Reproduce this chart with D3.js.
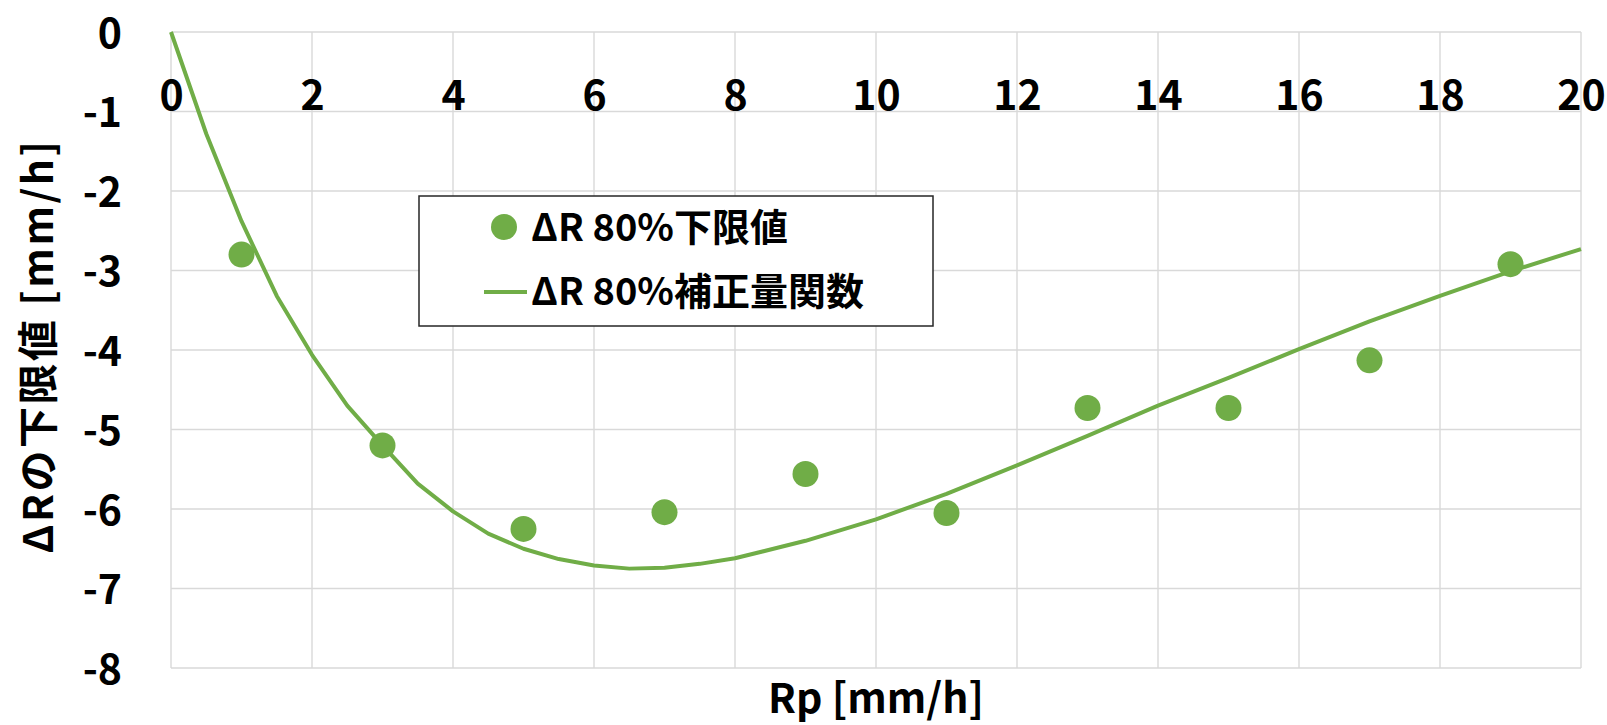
<!DOCTYPE html>
<html>
<head>
<meta charset="utf-8">
<script src="https://cdn.jsdelivr.net/npm/d3@7"></script>
<style>
  html, body { margin: 0; padding: 0; background: #fff; }
  svg { display: block; }
  text { font-family: "Noto Sans CJK JP", "Liberation Sans", sans-serif; font-weight: bold; fill: #000; }
</style>
</head>
<body>
<svg id="chart" width="1607" height="725"></svg>
<script>
// Lower-limit values of ΔR (80%) at each rainfall class
const pointX = [1, 3, 5, 7, 9, 11, 13, 15, 17, 19];
const pointY = [-2.80, -5.20, -6.25, -6.04, -5.56, -6.05, -4.73, -4.73, -4.13, -2.92];

// Correction function sampled along Rp
const curveX = [0, 0.5, 1, 1.5, 2, 2.5, 3, 3.5, 4, 4.5, 5, 5.5, 6, 6.5, 7, 7.5, 8,
                9, 10, 11, 12, 13, 14, 15, 16, 17, 18, 19, 20];
const curveY = [0, -1.28, -2.38, -3.32, -4.06, -4.70, -5.20, -5.68, -6.03, -6.31, -6.50, -6.63, -6.71, -6.75, -6.74, -6.69, -6.62,
                -6.40, -6.13, -5.81, -5.45, -5.08, -4.70, -4.35, -3.99, -3.64, -3.32, -3.01, -2.73];

const xTicks = [0, 2, 4, 6, 8, 10, 12, 14, 16, 18, 20];
const yTicks = [0, -1, -2, -3, -4, -5, -6, -7, -8];

const seriesNames = ["ΔR 80%下限値", "ΔR 80%補正量関数"];
const xTitle = "Rp [mm/h]";
const yTitle = "ΔRの下限値 [mm/h]";

const green = "#70AD47";
const gridColor = "#d9d9d9";

const svg = d3.select("#chart");
const plot = { left: 171, right: 1581, top: 32, bottom: 668 };

const x = d3.scaleLinear().domain([0, 20]).range([plot.left, plot.right]);
const y = d3.scaleLinear().domain([-8, 0]).range([plot.bottom, plot.top]);

// Plain hyphen-minus for negative tick labels
const fmt = d => String(d);

// Gridlines
const grid = svg.append("g");
grid.selectAll("line.v").data(xTicks).join("line")
  .attr("x1", d => x(d)).attr("x2", d => x(d))
  .attr("y1", plot.top).attr("y2", plot.bottom)
  .attr("stroke", gridColor).attr("stroke-width", 1.4);
grid.selectAll("line.h").data(yTicks).join("line")
  .attr("y1", d => y(d)).attr("y2", d => y(d))
  .attr("x1", plot.left).attr("x2", plot.right)
  .attr("stroke", gridColor).attr("stroke-width", 1.4);

// Y axis labels
const yAxis = svg.append("g")
  .attr("transform", `translate(${plot.left},0)`)
  .call(d3.axisLeft(y).tickValues(yTicks).tickSize(0).tickPadding(49).tickFormat(fmt));
yAxis.select(".domain").remove();
yAxis.selectAll("text")
  .attr("dy", 15)
  .style("font-size", "41px");

// X axis labels (axis crosses at y = 0)
const xAxis = svg.append("g")
  .attr("transform", `translate(0,${y(0)})`)
  .call(d3.axisBottom(x).tickValues(xTicks).tickSize(0).tickFormat(fmt));
xAxis.select(".domain").remove();
xAxis.selectAll("text")
  .attr("y", 78).attr("dy", 0)
  .style("font-size", "41px");

// Correction curve
const line = d3.line().x((d, i) => x(curveX[i])).y(d => y(d));
svg.append("path")
  .datum(curveY)
  .attr("d", line)
  .attr("fill", "none")
  .attr("stroke", green)
  .attr("stroke-width", 4)
  .attr("stroke-linejoin", "round");

// Lower-limit markers
svg.append("g").selectAll("circle").data(pointY).join("circle")
  .attr("cx", (d, i) => x(pointX[i]))
  .attr("cy", d => y(d))
  .attr("r", 13)
  .attr("fill", green);

// Axis titles
svg.append("text")
  .attr("x", (plot.left + plot.right) / 2)
  .attr("y", 713)
  .attr("text-anchor", "middle")
  .style("font-size", "41px")
  .text(xTitle);

svg.append("text")
  .attr("transform", `translate(53,${(plot.top + plot.bottom) / 2 - 4}) rotate(-90)`)
  .attr("text-anchor", "middle")
  .style("font-size", "41px")
  .style("letter-spacing", "2.5px")
  .text(yTitle);

// Legend
const legend = svg.append("g");
legend.append("rect")
  .attr("x", 419).attr("y", 196)
  .attr("width", 514).attr("height", 130)
  .attr("fill", "#fff")
  .attr("stroke", "#262626")
  .attr("stroke-width", 1.5);
legend.append("circle")
  .attr("cx", 504).attr("cy", 227).attr("r", 13)
  .attr("fill", green);
legend.append("line")
  .attr("x1", 484).attr("x2", 527)
  .attr("y1", 292).attr("y2", 292)
  .attr("stroke", green).attr("stroke-width", 4);
legend.selectAll("text.item").data(seriesNames).join("text")
  .attr("class", "item")
  .attr("x", 531)
  .attr("y", (d, i) => 241 + i * 64)
  .style("font-size", "38px")
  .text(d => d);
</script>
</body>
</html>
